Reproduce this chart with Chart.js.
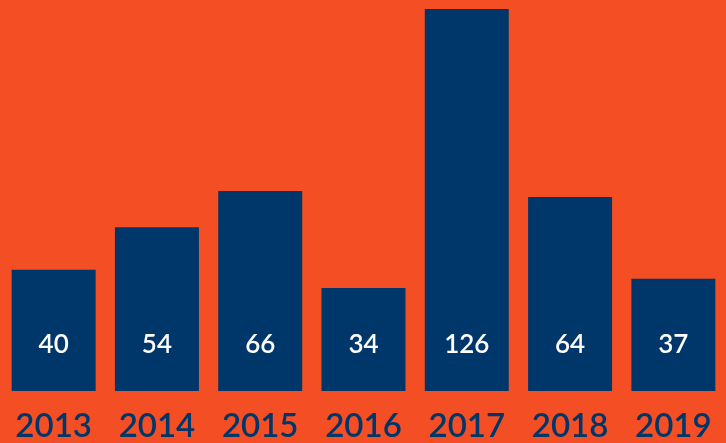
<!DOCTYPE html>
<html>
<head>
<meta charset="utf-8">
<script src="https://cdn.jsdelivr.net/npm/chart.js@4"></script>
<style>
  html, body { margin: 0; padding: 0; background: #F34E24; }
  #wrap { width: 726px; height: 443px; }
</style>
</head>
<body>
<div id="wrap"><canvas id="c" width="726" height="443"></canvas></div>
<script>
const categories = ["2013", "2014", "2015", "2016", "2017", "2018", "2019"];
const values = [40, 54, 66, 34, 126, 64, 37];

const ORANGE = "#F34E24";
const NAVY = "#00376A";

const valueLabels = {
  id: "valueLabels",
  afterDatasetsDraw(chart) {
    const ctx = chart.ctx;
    const meta = chart.getDatasetMeta(0);
    const bottom = chart.chartArea.bottom;
    ctx.save();
    ctx.fillStyle = "#ffffff";
    ctx.font = "600 26px Lato";
    ctx.textAlign = "center";
    ctx.textBaseline = "middle";
    meta.data.forEach((bar, i) => {
      ctx.fillText(String(values[i]), bar.x, bottom - 46);
    });
    ctx.restore();
  }
};

const bgPlugin = {
  id: "bg",
  beforeDraw(chart) {
    const ctx = chart.ctx;
    ctx.save();
    ctx.fillStyle = ORANGE;
    ctx.fillRect(0, 0, chart.width, chart.height);
    ctx.restore();
  }
};

new Chart(document.getElementById("c"), {
  type: "bar",
  data: {
    labels: categories,
    datasets: [{
      data: values,
      backgroundColor: NAVY,
      borderWidth: 0,
      categoryPercentage: 0.813,
      barPercentage: 1
    }]
  },
  options: {
    responsive: false,
    animation: false,
    layout: { padding: { left: 2, right: 1, top: 9, bottom: 0 } },
    plugins: { legend: { display: false }, tooltip: { enabled: false } },
    scales: {
      x: {
        grid: { display: false, drawTicks: false },
        border: { display: false },
        afterFit(scale) {
          scale.height = 52;
          scale.paddingLeft = 0;
          scale.paddingRight = 0;
        },
        ticks: {
          color: NAVY,
          font: { family: "Lato", size: 33, weight: "600", lineHeight: 1 },
          padding: 19,
          maxRotation: 0,
          autoSkip: false
        }
      },
      y: {
        display: false,
        min: 0,
        max: 126
      }
    }
  },
  plugins: [bgPlugin, valueLabels]
});
</script>
</body>
</html>
